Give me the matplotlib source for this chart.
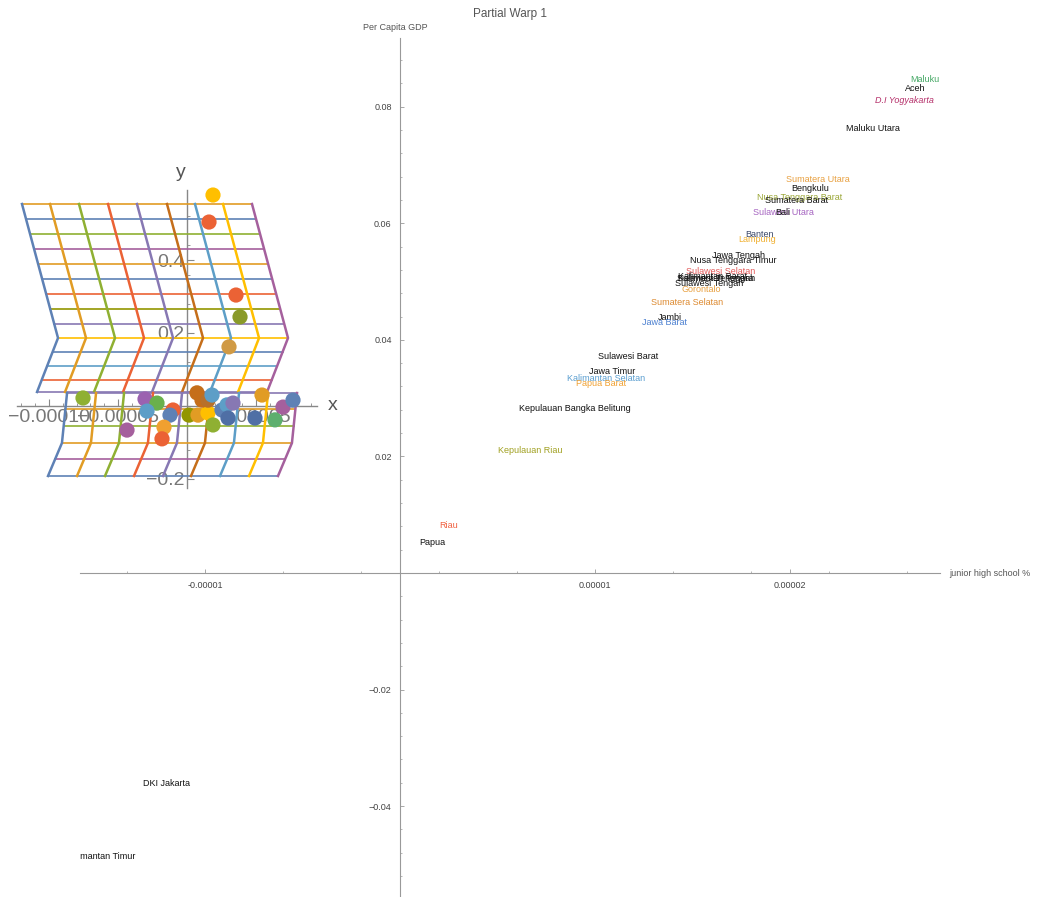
import numpy as np
import matplotlib.pyplot as plt
from matplotlib.ticker import AutoMinorLocator

plt.rcParams['font.family'] = ['Liberation Sans', 'DejaVu Sans']

# ---- main chart: province labels ----
provinces = ['Maluku', 'Aceh', 'D.I Yogyakarta', 'Maluku Utara', 'Sumatera Utara',
             'Bengkulu', 'Nusa Tenggara Barat', 'Sumatera Barat', 'Sulawesi Utara', 'Bali',
             'Lampung', 'Banten', 'Jawa Tengah', 'Nusa Tenggara Timur', 'Sulawesi Selatan',
             'Kalimantan Barat', 'Kalimantan Tengah', 'Sulawesi Tenggara', 'Sulawesi Tengah',
             'Gorontalo', 'Sumatera Selatan', 'Jambi', 'Jawa Barat', 'Sulawesi Barat',
             'Jawa Timur', 'Kalimantan Selatan', 'Papua Barat', 'Kepulauan Bangka Belitung',
             'Kepulauan Riau', 'Riau', 'Papua', 'DKI Jakarta', 'Kalimantan Timur']
jhs = [2.692e-5, 2.641e-5, 2.585e-5, 2.426e-5, 2.144e-5,
       2.103e-5, 2.051e-5, 2.036e-5, 1.964e-5, 1.964e-5,
       1.831e-5, 1.841e-5, 1.738e-5, 1.708e-5, 1.646e-5,
       1.605e-5, 1.621e-5, 1.615e-5, 1.585e-5,
       1.544e-5, 1.472e-5, 1.385e-5, 1.354e-5, 1.169e-5,
       1.087e-5, 1.056e-5, 1.031e-5, 0.897e-5,
       0.667e-5, 0.251e-5, 0.164e-5, -1.195e-5, -1.540e-5]
gdp = [0.0846, 0.0831, 0.0810, 0.0762, 0.0675,
       0.0659, 0.0644, 0.0639, 0.0618, 0.0618,
       0.0573, 0.0580, 0.0544, 0.0537, 0.0518,
       0.0508, 0.0506, 0.0505, 0.0496,
       0.0486, 0.0464, 0.0438, 0.0429, 0.0371,
       0.0345, 0.0333, 0.0325, 0.0283,
       0.0211, 0.0082, 0.0053, -0.0362, -0.0486]
label_colors = ['#45a865', '#111111', '#b5306a', '#111111', '#e8a040',
                '#111111', '#9aa636', '#111111', '#a563c0', '#111111',
                '#f0b030', '#3a4768', '#111111', '#111111', '#e25a5a',
                '#111111', '#111111', '#111111', '#111111',
                '#e8a040', '#dd8a30', '#111111', '#4a7fd0', '#111111',
                '#111111', '#5a9ed0', '#f0a030', '#111111',
                '#a0a020', '#f06040', '#111111', '#111111', '#111111']

xtick_vals = [-1e-5, 1e-5, 2e-5]
xtick_labels = ['-0.00001', '0.00001', '0.00002']
ytick_vals = [-0.04, -0.02, 0.02, 0.04, 0.06, 0.08]
ytick_labels = ['\u22120.04', '\u22120.02', '0.02', '0.04', '0.06', '0.08']

# ---- inset: partial warp grid ----
palette = ['#5E81B5', '#E19C24', '#8FB032', '#EB6235', '#8778B3',
           '#C56E1A', '#5D9EC7', '#FFBF00', '#A5609D']
upper_base = [-1.1957e-4, -0.9928e-4, -0.7826e-4, -0.5725e-4, -0.3623e-4,
              -0.1449e-4, 0.0580e-4, 0.2609e-4, 0.4710e-4]
upper_knot_y = [0.5534, 0.1863, 0.0384]
upper_knot_dx = [0.0, 2.61e-5, 1.09e-5]
upper_levels = [0.5534, 0.5123, 0.4712, 0.4301, 0.3890, 0.3479, 0.3068,
                0.2658, 0.2247, 0.1863, 0.1479, 0.1096, 0.0712, 0.0384]
upper_level_colors = ['#E19C24', '#5E81B5', '#8FB032', '#A5609D', '#E19C24', '#5E81B5',
                      '#EB6235', '#929600', '#8778B3', '#FFBF00', '#5E81B5', '#5D9EC7',
                      '#EB6235', '#8778B3']
lower_base = [-1.0072e-4, -0.7971e-4, -0.5942e-4, -0.3841e-4, -0.1739e-4,
              0.0290e-4, 0.2391e-4, 0.4493e-4, 0.6594e-4]
lower_knot_y = [0.0356, -0.1014, -0.1918]
lower_knot_dx = [1.38e-5, 1.01e-5, 0.0]
lower_levels = [0.0356, -0.0082, -0.0548, -0.1014, -0.1452, -0.1918]
lower_level_colors = ['#8778B3', '#E19C24', '#8FB032', '#E19C24', '#A5609D', '#5E81B5']

dot_x = [1.884e-5, 1.594e-5, 3.551e-5, 3.841e-5, 3.043e-5, -7.536e-5, -3.043e-5,
         -2.174e-5, -2.898e-5, -1.014e-5, -1.232e-5, -4.348e-5, -1.667e-5, -1.812e-5,
         0.145e-5, 0.797e-5, 1.522e-5, 0.725e-5, 1.087e-5, 1.522e-5, 1.812e-5,
         2.536e-5, 2.899e-5, 3.333e-5, 2.971e-5, 1.884e-5, 4.927e-5, 5.435e-5,
         6.377e-5, 6.957e-5, 7.681e-5]
dot_y = [0.578, 0.504, 0.304, 0.244, 0.162, 0.022, 0.019,
         0.008, -0.014, -0.011, -0.025, -0.066, -0.058, -0.090,
         -0.025, -0.025, -0.019, 0.036, 0.016, 0.016, 0.030,
         -0.011, 0.003, 0.008, -0.033, -0.052, -0.033, 0.030,
         -0.038, -0.003, 0.016]
dot_colors = ['#FFBF00', '#EB6235', '#EB6235', '#8a9a2a', '#d09a45', '#8FB032', '#9B62B0',
              '#6AB04C', '#5D9EC7', '#EB6235', '#5E81B5', '#A5609D', '#F0A030', '#EB6235',
              '#929600', '#E19C24', '#FFBF00', '#C56E1A', '#C56E1A', '#B8702A', '#5D9EC7',
              '#5E81B5', '#5D9EC7', '#8778B3', '#4F6FA5', '#8FB032', '#4F6FA5', '#E19C24',
              '#5DAF6E', '#A5609D', '#5E81B5']

fig = plt.figure(figsize=(10.38, 8.97), dpi=100)

# main axes
ax = fig.add_axes([80 / 1038, 0, 860 / 1038, 859 / 897])
ax.set_xlim(-1.641e-5, 2.769e-5)
ax.set_ylim(-0.0556, 0.0918)
ax.patch.set_alpha(0)
for s in ['top', 'right']:
    ax.spines[s].set_visible(False)
ax.spines['left'].set_position(('data', 0))
ax.spines['bottom'].set_position(('data', 0))
for s in ['left', 'bottom']:
    ax.spines[s].set_color('#999999')
    ax.spines[s].set_linewidth(0.8)
ax.set_xticks(xtick_vals, xtick_labels)
ax.set_yticks(ytick_vals, ytick_labels)
ax.xaxis.set_minor_locator(AutoMinorLocator(5))
ax.yaxis.set_minor_locator(AutoMinorLocator(5))
ax.tick_params(which='major', direction='in', length=3, width=0.6, colors='#999999',
               labelcolor='#444444', labelsize=6.5, pad=6)
ax.tick_params(which='minor', direction='in', length=1.5, width=0.5, colors='#999999')

for name, x, y, c in zip(provinces, jhs, gdp, label_colors):
    style = 'italic' if name.startswith('D.I') else 'normal'
    ax.text(x, y, name, color=c, fontsize=6.5, ha='center', va='center',
            fontstyle=style, clip_on=True)

fig.text(510 / 1038, 1 - 14 / 897, 'Partial Warp 1', fontsize=8.5, color='#555555',
         ha='center', va='center')
fig.text(395 / 1038, 1 - 27 / 897, 'Per Capita GDP', fontsize=6.5, color='#555555',
         ha='center', va='center')
fig.text(990 / 1038, 1 - 574 / 897, 'junior high school %', fontsize=6.5, color='#555555',
         ha='center', va='center')

# inset axes
ins = fig.add_axes([17 / 1038, 1 - 488 / 897, 300 / 1038, 298 / 897])
ins.set_xlim(-1.2319e-4, 9.42e-5)
ins.set_ylim(-0.2247, 0.5918)
ins.patch.set_alpha(0)
for s in ['top', 'right']:
    ins.spines[s].set_visible(False)
ins.spines['left'].set_position(('data', 0))
ins.spines['bottom'].set_position(('data', 0))
for s in ['left', 'bottom']:
    ins.spines[s].set_color('#888888')
    ins.spines[s].set_linewidth(1.0)
ins.set_xticks([-1e-4, -5e-5, 5e-5], ['\u22120.00010', '\u22120.00005', '0.00005'])
ins.set_yticks([-0.2, 0.2, 0.4], ['\u22120.2', '0.2', '0.4'])
ins.xaxis.set_minor_locator(AutoMinorLocator(5))
ins.yaxis.set_minor_locator(AutoMinorLocator(5))
ins.tick_params(which='major', direction='in', length=5, width=0.8, colors='#888888',
                labelcolor='#777777', labelsize=14, pad=2)
ins.tick_params(which='minor', direction='in', length=2.5, width=0.6, colors='#888888')
ins.text(1.058e-4, 0, 'x', fontsize=14, color='#555555', ha='center', va='center', clip_on=False)
ins.text(-4.3e-6, 0.641, 'y', fontsize=14, color='#555555', ha='center', va='center', clip_on=False)

up_y = upper_knot_y[::-1]
up_dx = upper_knot_dx[::-1]
for lvl, c in zip(upper_levels, upper_level_colors):
    d = np.interp(lvl, up_y, up_dx)
    ins.plot([upper_base[0] + d, upper_base[-1] + d], [lvl, lvl], color=c, lw=1.2,
             zorder=3, clip_on=False)
for b, c in zip(upper_base, palette):
    ins.plot(np.array(upper_knot_dx) + b, upper_knot_y, color=c, lw=1.8, zorder=3, clip_on=False)

lo_y = lower_knot_y[::-1]
lo_dx = lower_knot_dx[::-1]
for lvl, c in zip(lower_levels, lower_level_colors):
    d = np.interp(lvl, lo_y, lo_dx)
    ins.plot([lower_base[0] + d, lower_base[-1] + d], [lvl, lvl], color=c, lw=1.2,
             zorder=3, clip_on=False)
for b, c in zip(lower_base, palette):
    ins.plot(np.array(lower_knot_dx) + b, lower_knot_y, color=c, lw=1.8, zorder=3, clip_on=False)

ins.scatter(dot_x, dot_y, s=120, c=dot_colors, edgecolors='none', zorder=4, clip_on=False)

fig.savefig('out.png', dpi=100)
